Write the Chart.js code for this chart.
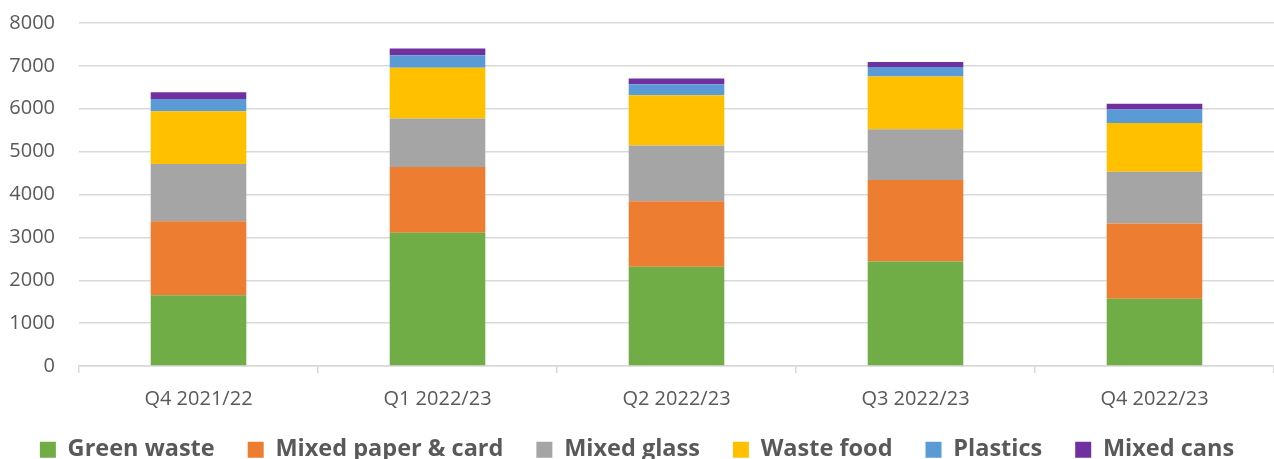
<!DOCTYPE html>
<html>
<head>
<meta charset="utf-8">
<script src="https://cdn.jsdelivr.net/npm/chart.js@4/dist/chart.umd.min.js"></script>
<style>
  html, body { margin: 0; padding: 0; background: #fff; }
  #wrap { width: 1274px; height: 459px; }
</style>
</head>
<body>
<div id="wrap"><canvas id="wasteChart"></canvas></div>
<script>
/* ===== DATA ===== */
const quarters = ["Q4 2021/22", "Q1 2022/23", "Q2 2022/23", "Q3 2022/23", "Q4 2022/23"];
const greenWaste = [1650, 3110, 2315, 2435, 1570];
const mixedPaper = [1725, 1530, 1525, 1905, 1755];
const mixedGlass = [1335, 1135, 1300, 1180, 1205];
const wasteFood  = [1230, 1180, 1175, 1235, 1140];
const plastics   = [290, 295, 255, 220, 310];
const mixedCans  = [155, 155, 135, 115, 135];
const yTicks = [0, 1000, 2000, 3000, 4000, 5000, 6000, 7000, 8000];

const FONT = "'Open Sans', sans-serif";
const TEXT = "#595959";
const GRID = "#d9d9d9";

function ds(label, data, color) {
  return {
    label,
    data,
    backgroundColor: color,
    borderWidth: 0,
    barPercentage: 0.4,
    categoryPercentage: 1
  };
}

/* legend: wide gaps between items, but keep the block short */
const legendFit = {
  id: "legendFit",
  beforeLayout(chart) {
    const lg = chart.legend;
    if (lg && !lg._patched) {
      const fit = lg.fit;
      lg.fit = function () { fit.call(this); this.height = 34; };
      lg._patched = true;
    }
  },
  afterLayout(chart) {
    chart.legend.top -= 20;
    chart.legend.bottom = chart.height;
  }
};

new Chart(document.getElementById("wasteChart"), {
  type: "bar",
  data: {
    labels: quarters,
    datasets: [
      ds("Green waste", greenWaste, "#70AD47"),
      ds("Mixed paper & card", mixedPaper, "#ED7D31"),
      ds("Mixed glass", mixedGlass, "#A5A5A5"),
      ds("Waste food", wasteFood, "#FFC000"),
      ds("Plastics", plastics, "#5B9BD5"),
      ds("Mixed cans", mixedCans, "#7030A0")
    ]
  },
  options: {
    responsive: true,
    maintainAspectRatio: false,
    animation: false,
    layout: { padding: { left: 0, right: 0, top: 23, bottom: 0 } },
    scales: {
      x: {
        stacked: true,
        border: { color: GRID, width: 1.5 },
        grid: { color: GRID, drawOnChartArea: false, tickLength: 7, lineWidth: 1.5, offset: true },
        ticks: { color: TEXT, font: { family: FONT, size: 20 }, padding: 14 }
      },
      y: {
        stacked: true,
        min: 0,
        max: 8000,
        afterBuildTicks: axis => { axis.ticks = yTicks.map(v => ({ value: v })); },
        afterFit: axis => { axis.width = 79; },
        border: { display: false },
        grid: { color: GRID, lineWidth: 1.5, tickLength: 22, tickColor: "rgba(0,0,0,0)" },
        ticks: { color: TEXT, font: { family: FONT, size: 20 }, padding: 2, callback: v => String(v) }
      }
    },
    plugins: {
      legend: {
        position: "bottom",
        labels: {
          color: TEXT,
          font: { family: FONT, size: 23.5, weight: "bold" },
          boxWidth: 16,
          boxHeight: 16,
          padding: 33
        }
      },
      tooltip: { enabled: false }
    }
  },
  plugins: [legendFit]
});
</script>
</body>
</html>
